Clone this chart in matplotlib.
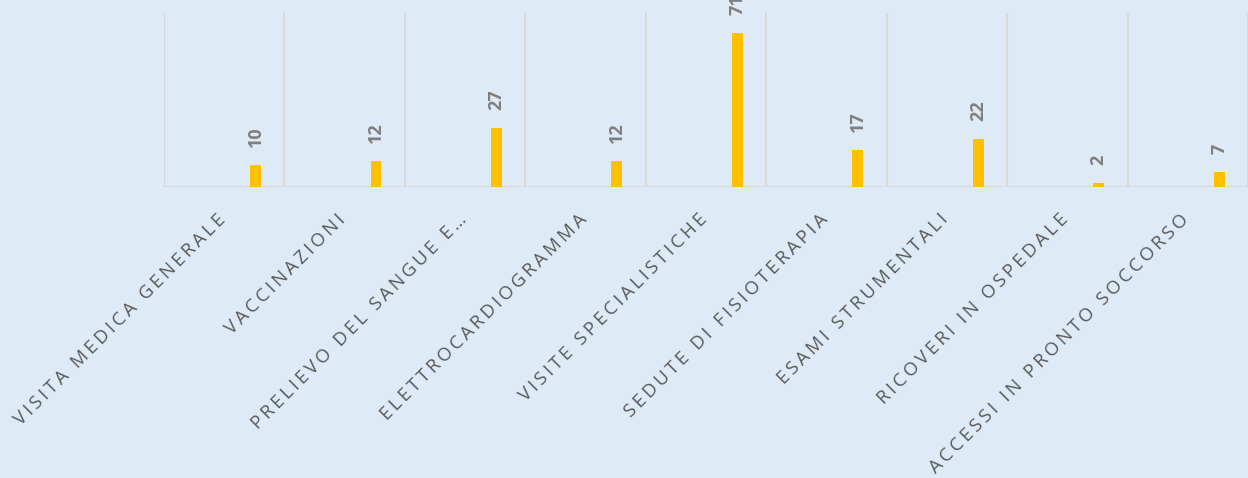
import matplotlib.pyplot as plt
import matplotlib.transforms as mtrans
import numpy as np

# Data
categories = [
    "VISITA MEDICA GENERALE",
    "VACCINAZIONI",
    "PRELIEVO DEL SANGUE E…",
    "ELETTROCARDIOGRAMMA",
    "VISITE SPECIALISTICHE",
    "SEDUTE DI FISIOTERAPIA",
    "ESAMI STRUMENTALI",
    "RICOVERI IN OSPEDALE",
    "ACCESSI IN PRONTO SOCCORSO",
]
values = [10, 12, 27, 12, 71, 17, 22, 2, 7]

BG = '#DEEAF6'
BAR = '#FFC000'
GRID = '#D9D9D9'


def spaced(s, sep="\u2009"):
    # imitate the wide letter spacing of the original
    return sep.join(s)


plt.rcParams['font.family'] = ['Open Sans', 'DejaVu Sans']

fig = plt.figure(figsize=(12.48, 4.78), dpi=100, facecolor=BG)
ax = fig.add_axes([164 / 1248, 291 / 478, 1 - 164 / 1248, 174 / 478])
ax.set_facecolor(BG)

x = np.arange(len(categories))
bars = ax.bar(x + 0.26, values, width=0.09, color=BAR, zorder=3)

ax.set_xlim(-0.5, len(categories) - 0.5)
ax.set_ylim(0, 80)

# category separators
for b in np.arange(-0.5, len(categories), 1.0):
    ax.axvline(b, color=GRID, lw=1.5, zorder=1)

for s in ax.spines.values():
    s.set_visible(False)
ax.axhline(0, color=GRID, lw=1.5, zorder=2)

ax.set_yticks([])
ax.set_xticks(x)
ax.set_xticklabels([spaced(c) for c in categories], rotation=45, ha='right',
                   rotation_mode='anchor', fontsize=13.4, color='#595959')
ax.tick_params(axis='x', length=0, pad=17)
shift = mtrans.ScaledTranslation(-8 / 100, 0, fig.dpi_scale_trans)
for lbl in ax.get_xticklabels():
    lbl.set_transform(lbl.get_transform() + shift)

for rect, v in zip(bars, values):
    ax.annotate(str(v), (rect.get_x() + rect.get_width() / 2, v),
                xytext=(0, 13), textcoords='offset points', rotation=90,
                ha='center', va='bottom', fontsize=13, fontweight='bold',
                color='#7F7F7F', annotation_clip=False)

fig.savefig('out.png', dpi=100, facecolor=BG)
